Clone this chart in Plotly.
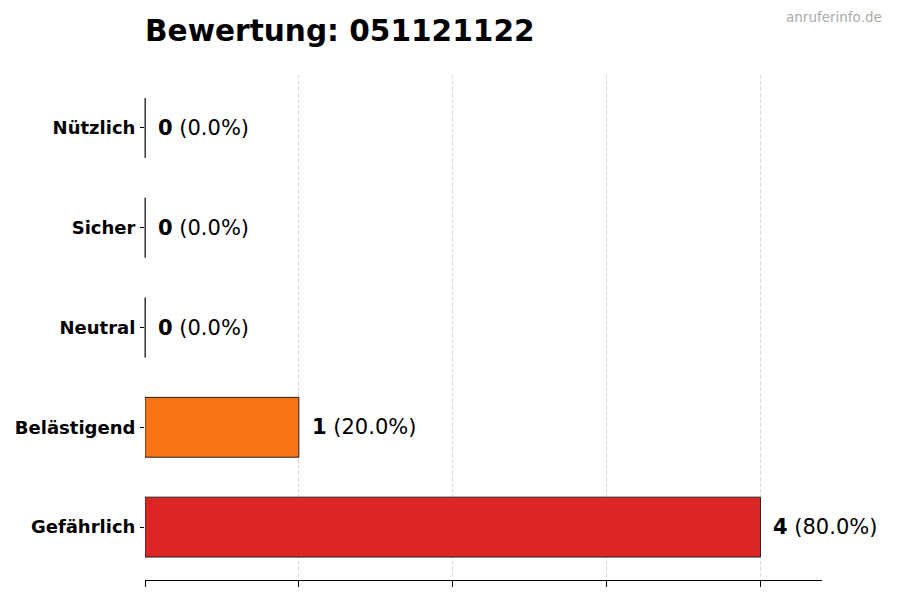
import plotly.graph_objects as go

categories = ["Gefährlich", "Belästigend", "Neutral", "Sicher", "Nützlich"]
counts = [4, 1, 0, 0, 0]
colors = ["#dc2626", "#f97316", "#9ca3af", "#22c55e", "#3b82f6"]
title_text = "Bewertung: 051121122"
watermark = "anruferinfo.de"

total = sum(counts)
FONT = "DejaVu Sans"
ML, MR = 137, 86
PW = 900 - ML - MR

fig = go.Figure()
fig.add_trace(go.Bar(
    x=counts, y=categories, orientation="h", width=0.6,
    marker=dict(color=colors, line=dict(color="#222222", width=1)),
    hoverinfo="skip", showlegend=False,
))

# zero-value bars only show their edge line (line-ns symbol length = 1.4 * size)
zero_cats = [c for c, v in zip(categories, counts) if v == 0]
fig.add_trace(go.Scatter(
    x=[0] * len(zero_cats), y=zero_cats, mode="markers",
    marker=dict(symbol="line-ns", size=60 / 1.4, line=dict(color="#222222", width=1)),
    hoverinfo="skip", showlegend=False, cliponaxis=False,
))

for c, v in zip(categories, counts):
    pct = v / total * 100 if total else 0
    fig.add_annotation(
        x=v, y=c, xref="x", yref="y", xanchor="left", yanchor="middle",
        xshift=11, showarrow=False,
        text=f"<b>{v}</b> ({pct:.1f}%)",
        font=dict(family=FONT, size=21, color="#000000"),
    )

fig.add_annotation(
    x=(884 - 8 - ML) / PW, y=(580 - 17) / 505, xref="paper", yref="paper",
    xanchor="right", yanchor="middle", showarrow=False,
    text=watermark, font=dict(family=FONT, size=13.5, color="#aaaaaa"),
)

fig.update_layout(
    width=900, height=600,
    margin=dict(l=ML, r=MR, t=67, b=28),
    paper_bgcolor="white", plot_bgcolor="white",
    font=dict(family=FONT, color="#000000"),
    title=dict(text=f"<b>{title_text}</b>", x=137 / 900, xanchor="left",
               y=1 - 23 / 600, yanchor="middle",
               font=dict(family=FONT, size=29.6, color="#000000")),
    bargap=0.4,
)
fig.update_xaxes(
    range=[0, 4.4], tick0=0, dtick=1, showticklabels=False,
    ticks="outside", ticklen=6, tickcolor="#000000", tickwidth=1,
    showgrid=True, gridcolor="#dcdcdc", griddash="4px,2px", gridwidth=1,
    zeroline=False, showline=True, linecolor="#000000", linewidth=1,
    layer="above traces", automargin=False,
)
fig.update_yaxes(
    categoryorder="array", categoryarray=categories, range=[-0.53, 4.53],
    ticks="outside", ticklen=4, tickcolor="#000000", tickwidth=1,
    showgrid=False, zeroline=False, showline=False,
    tickfont=dict(family=FONT, size=18, color="#000000"),
    ticklabelstandoff=1, automargin=False,
)
fig.for_each_yaxis(lambda a: a.update(tickprefix="<b>", ticksuffix="</b>"))

fig.write_html("out.html")
